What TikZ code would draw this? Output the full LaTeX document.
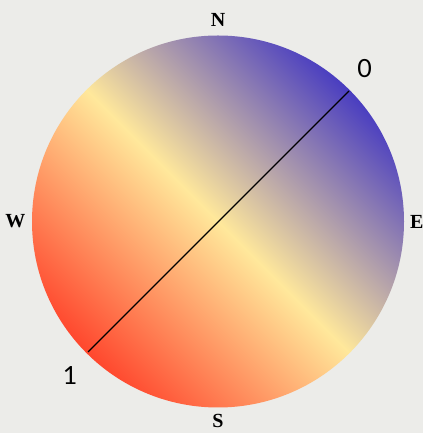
\documentclass[tikz,border=0pt]{standalone}
\usepackage{fontspec}
\setmainfont{Liberation Serif}
\newfontfamily\digitfont{Lato}
\usepackage{tikz}
\usetikzlibrary{positioning}

\definecolor{paper}{RGB}{236,236,233}
\definecolor{sunred}{RGB}{255,72,46}
\definecolor{sunyellow}{RGB}{255,232,155}
\definecolor{duskblue}{RGB}{74,62,192}
\pgfdeclareverticalshading{compass}{100bp}{color(0bp)=(sunred); color(25bp)=(sunred); color(50bp)=(sunyellow); color(75bp)=(duskblue); color(100bp)=(duskblue)}

\begin{document}
\begin{tikzpicture}[x=1pt, y=1pt, font=\fontsize{20}{22}\selectfont\bfseries]
\fill[paper] (0,0) rectangle (423,433);
\useasboundingbox (0,0) rectangle (423,433);
\node[circle, minimum size=372pt, inner sep=0pt, outer sep=0pt, shading=compass, shading angle=-45] (disc) at (218,211.5) {};

% compass points
\node[above=5pt of disc.north] (n) {N};
\node[below=3.5pt of disc.south] (s) {S};
\node[left=3pt of disc.west] (w) {W};
\node[right=2.5pt of disc.east] (e) {E};

% the diameter
\coordinate (p0) at (349,342);
\coordinate (p1) at (88,81);
\draw[line width=1.2pt] (p0) -- (p1);
\node[font=\digitfont\fontsize{25}{27}\selectfont, above right=10pt and 4.8pt of p0] (zero) {0};
\node[font=\digitfont\fontsize{25}{27}\selectfont, below left=11pt and 7.2pt of p1] (one) {1};
\end{tikzpicture}
\end{document}
